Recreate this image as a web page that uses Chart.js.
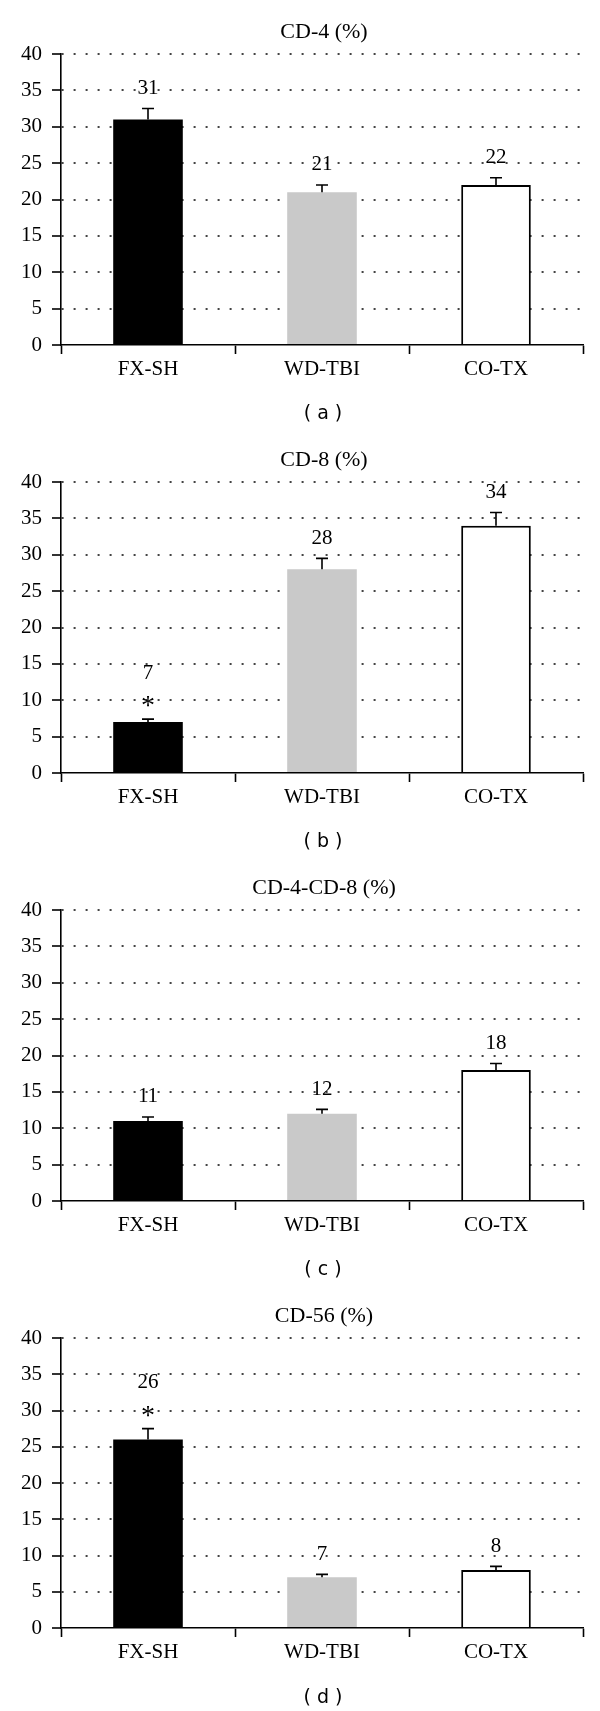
<!DOCTYPE html>
<html>
<head>
<meta charset="utf-8">
<script src="https://cdn.jsdelivr.net/npm/chart.js@4/dist/chart.umd.min.js"></script>
<style>
  html, body { margin: 0; padding: 0; background: #fff; }
  .panel { position: relative; width: 600px; height: 428px; }
  .panel.last { height: 427px; }
</style>
</head>
<body>
<div class="panel"><canvas id="c0"></canvas></div>
<div class="panel"><canvas id="c1"></canvas></div>
<div class="panel"><canvas id="c2"></canvas></div>
<div class="panel last"><canvas id="c3"></canvas></div>
<script>
const categories = ['FX-SH', 'WD-TBI', 'CO-TX'];
const yTicks = [0, 5, 10, 15, 20, 25, 30, 35, 40];

const titles = ['CD-4 (%)', 'CD-8 (%)', 'CD-4-CD-8 (%)', 'CD-56 (%)'];
const captions = ['( a )', '( b )', '( c )', '( d )'];

const cd4 = [31, 21, 22];
const cd4Err = [1.5, 1.0, 1.0];
const cd8 = [7, 28, 34];
const cd8Err = [0.4, 1.5, 1.8];
const cd4cd8 = [11, 12, 18];
const cd4cd8Err = [0.55, 0.6, 0.9];
const cd56 = [26, 7, 8];
const cd56Err = [1.5, 0.4, 0.5];

// significance marks (*)
const cd4Star = [false, false, false];
const cd8Star = [true, false, false];
const cd4cd8Star = [false, false, false];
const cd56Star = [true, false, false];

const panels = [
  { values: cd4, errors: cd4Err, stars: cd4Star },
  { values: cd8, errors: cd8Err, stars: cd8Star },
  { values: cd4cd8, errors: cd4cd8Err, stars: cd4cd8Star },
  { values: cd56, errors: cd56Err, stars: cd56Star },
];

const barColors = ['#000000', '#c9c9c9', '#ffffff'];
const barBorders = ['#000000', '#c9c9c9', '#000000'];

Chart.defaults.font.family = '"Liberation Serif", serif';
Chart.defaults.color = '#000';

// error bars, value labels and stars
const barExtras = {
  id: 'barExtras',
  afterDatasetsDraw(chart, args, opts) {
    const { ctx } = chart;
    const y = chart.scales.y;
    const meta = chart.getDatasetMeta(0);
    const values = chart.data.datasets[0].data;
    ctx.save();
    meta.data.forEach((bar, i) => {
      const top = y.getPixelForValue(values[i] + opts.errors[i]);
      ctx.strokeStyle = '#000';
      ctx.lineWidth = 1.6;
      ctx.beginPath();
      ctx.moveTo(bar.x, bar.y);
      ctx.lineTo(bar.x, top);
      ctx.moveTo(bar.x - 6, top);
      ctx.lineTo(bar.x + 6, top);
      ctx.stroke();

      ctx.fillStyle = '#000';
      ctx.textAlign = 'center';
      let labelY = top - 20;
      if (opts.stars[i]) {
        const starY = top - 19;
        ctx.font = '28px "Liberation Serif", serif';
        ctx.textBaseline = 'alphabetic';
        ctx.fillText('*', bar.x, starY + 14);
        labelY = top - 46;
      }
      ctx.font = '21px "Liberation Serif", serif';
      ctx.textBaseline = 'middle';
      ctx.fillText(String(values[i]), bar.x, labelY);
    });
    ctx.restore();
  }
};

// panel title on top and letter caption below
const panelText = {
  id: 'panelText',
  afterDraw(chart, args, opts) {
    const { ctx, chartArea } = chart;
    const cx = (chartArea.left + chartArea.right) / 2;
    ctx.save();
    ctx.fillStyle = '#000';
    ctx.textAlign = 'center';
    ctx.textBaseline = 'middle';
    ctx.font = '22px "Liberation Serif", serif';
    ctx.fillText(opts.title, cx + 2, 32);
    ctx.font = '19px "DejaVu Sans", sans-serif';
    ctx.fillText(opts.caption, cx + 1, 414);
    ctx.restore();
  }
};

panels.forEach((p, k) => {
  new Chart(document.getElementById('c' + k), {
    type: 'bar',
    data: {
      labels: categories,
      datasets: [{
        data: p.values,
        backgroundColor: barColors,
        borderColor: barBorders,
        borderWidth: [0, 0, 2],
        barPercentage: 0.4,
        categoryPercentage: 1.0
      }]
    },
    plugins: [barExtras, panelText],
    options: {
      responsive: true,
      maintainAspectRatio: false,
      animation: false,
      layout: { padding: { top: 54, right: 17, bottom: 0, left: 0 } },
      plugins: {
        legend: { display: false },
        tooltip: { enabled: false },
        barExtras: { errors: p.errors, stars: p.stars },
        panelText: { title: titles[k], caption: captions[k] }
      },
      scales: {
        x: {
          grid: {
            offset: true,
            drawOnChartArea: false,
            drawTicks: true,
            tickLength: 9,
            tickColor: '#000',
            tickWidth: 1.6
          },
          border: { color: '#000', width: 1.6 },
          ticks: { color: '#000', font: { size: 21 }, padding: 3 },
          afterFit(scale) { scale.height = 83; }
        },
        y: {
          min: yTicks[0],
          max: yTicks[yTicks.length - 1],
          afterBuildTicks(scale) { scale.ticks = yTicks.map(v => ({ value: v })); },
          ticks: { color: '#000', font: { size: 21 }, padding: 10 },
          grid: {
            color: (c) => (c.tick && c.tick.value === 0 ? 'rgba(0,0,0,0)' : '#444'),
            lineWidth: 2,
            drawTicks: true,
            tickLength: 9,
            tickColor: '#000',
            tickWidth: 1.6
          },
          border: { color: '#000', width: 1.6, dash: [2, 10], dashOffset: 0 },
          afterFit(scale) { scale.width = 61; }
        }
      }
    }
  });
});
</script>
</body>
</html>
